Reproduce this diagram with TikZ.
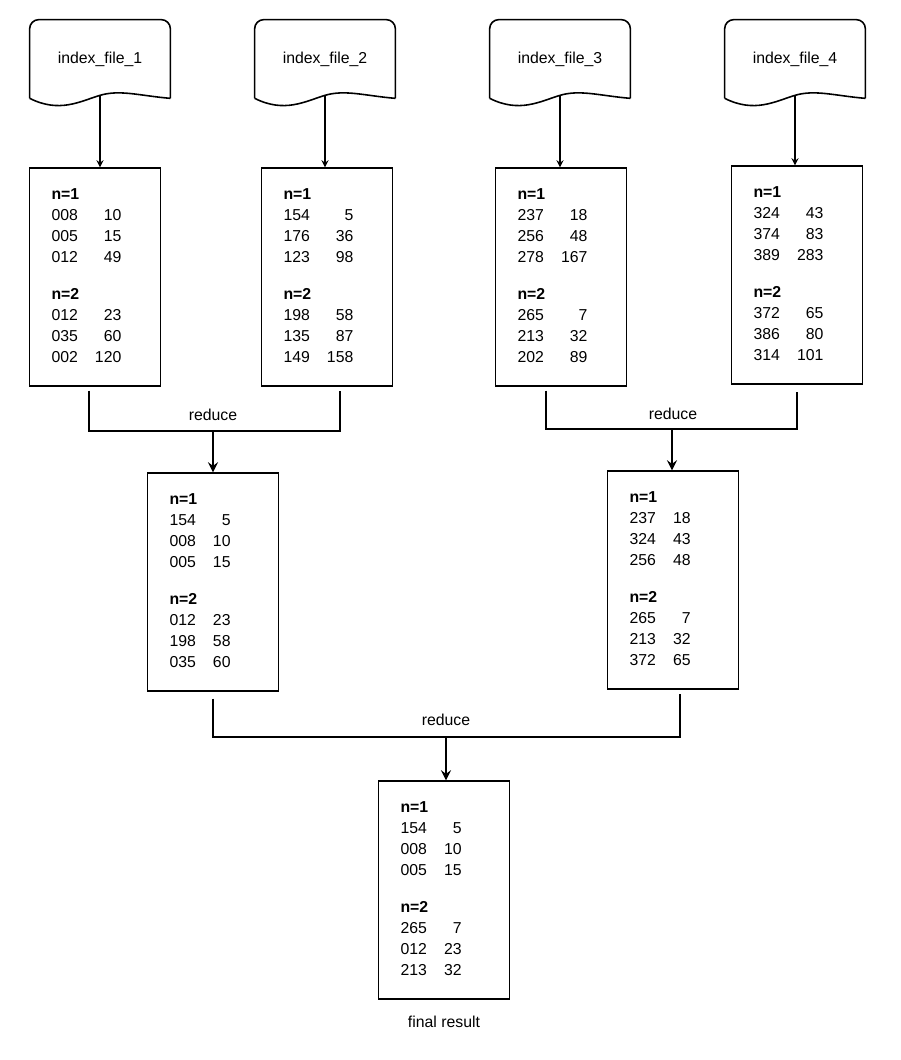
\documentclass[tikz,border=0pt]{standalone}
\usepackage{fontspec}
\setmainfont{Liberation Sans}
\usetikzlibrary{calc}
\tikzset{>=stealth}
\tikzset{
  doc/.style = {minimum width=2.8cm, minimum height=1.56cm, inner sep=0pt},
  box/.style = {draw, line width=0.8pt, text width=1.74cm, inner xsep=0.44cm, align=left, minimum height=4.36cm},
  bracket/.style = {line width=1.5pt},
  arr/.style = {->, line width=0.8pt}
}
\newcommand{\docshape}[1]{
   \draw[line width=0.9pt, rounded corners=0.18cm] (#1.south east) -- (#1.north east) -- (#1.north west) -- (#1.south west);
   \draw[line width=0.9pt] (#1.south west) .. controls +(0.6cm,-0.3cm) and +(-0.4cm,-0.12cm) .. (#1w)
      .. controls +(0.4cm,0.12cm) and +(-0.6cm,0.05cm) .. (#1.south east);
}
\newcommand{\entries}[6]{\begin{tabular}{@{}l@{\hspace{9pt}}r@{}}
\textbf{n=1}&\\ #1\\ #2\\ #3\\[9pt] \textbf{n=2}&\\ #4\\ #5\\ #6
\end{tabular}}

\begin{document}
\begin{tikzpicture}[x=0.02cm, y=0.02cm, font=\fontsize{9}{12}\selectfont]
		\useasboundingbox (0,0) rectangle (900,-1060);

		% Input files
		\foreach \n/\x in {1/100, 2/325, 3/560, 4/795}
		{
			\node[doc] (d\n) at (\x,-59) {index\_file\_\n};
			\coordinate (d\n w) at ($(d\n.south)+(0,0.06cm)$);
			\docshape{d\n}
		}

		% Map outputs
		\node[box] (b1) at (95,-277) {\entries{008&10}{005&15}{012&49}{012&23}{035&60}{002&120}};
		\node[box] (b2) at (327,-277) {\entries{154&5}{176&36}{123&98}{198&58}{135&87}{149&158}};
		\node[box] (b3) at (561,-277) {\entries{237&18}{256&48}{278&167}{265&7}{213&32}{202&89}};
		\node[box] (b4) at (797,-275) {\entries{324&43}{374&83}{389&283}{372&65}{386&80}{314&101}};
		%
		\foreach \n in {1,...,4}
			\draw[arr] (d\n w) -- (d\n w |- b\n.north);

		% First reduce
		\node[box] (r1) at (213,-582) {\entries{154&5}{008&10}{005&15}{012&23}{198&58}{035&60}};
		\node[box] (r2) at (673,-580) {\entries{237&18}{324&43}{256&48}{265&7}{213&32}{372&65}};
		%
		\coordinate (m1) at (213,-431);
		\coordinate (m2) at (672,-429);
		\draw[bracket] ([shift={(-6,-4)}]b1.south) |- (m1) -| ([shift={(13,-4)}]b2.south);
		\draw[bracket] ([shift={(-15,-4)}]b3.south) |- (m2) -| ([yshift=-4]b4.south);
		\draw[arr, line width=1.5pt] (m1) -- (r1.north);
		\draw[arr, line width=1.5pt] (m2) -- (m2 |- r2.north);
		\node (l1) at (213,-415) {reduce};
		\node (l2) at (673,-414) {reduce};

		% Final reduce
		\node[box] (fin) at (444,-890) {\entries{154&5}{008&10}{005&15}{265&7}{012&23}{213&32}};
		\node[below=6pt] (cap) at (fin.south) {final result};
		%
		\coordinate (m3) at (446,-737);
		\draw[bracket] ([yshift=-4]r1.south) |- (m3) -| ([shift={(7,-4)}]r2.south);
		\draw[arr, line width=1.5pt] (m3) -- (m3 |- fin.north);
		\node (l3) at (446,-720) {reduce};
	\end{tikzpicture}
\end{document}
